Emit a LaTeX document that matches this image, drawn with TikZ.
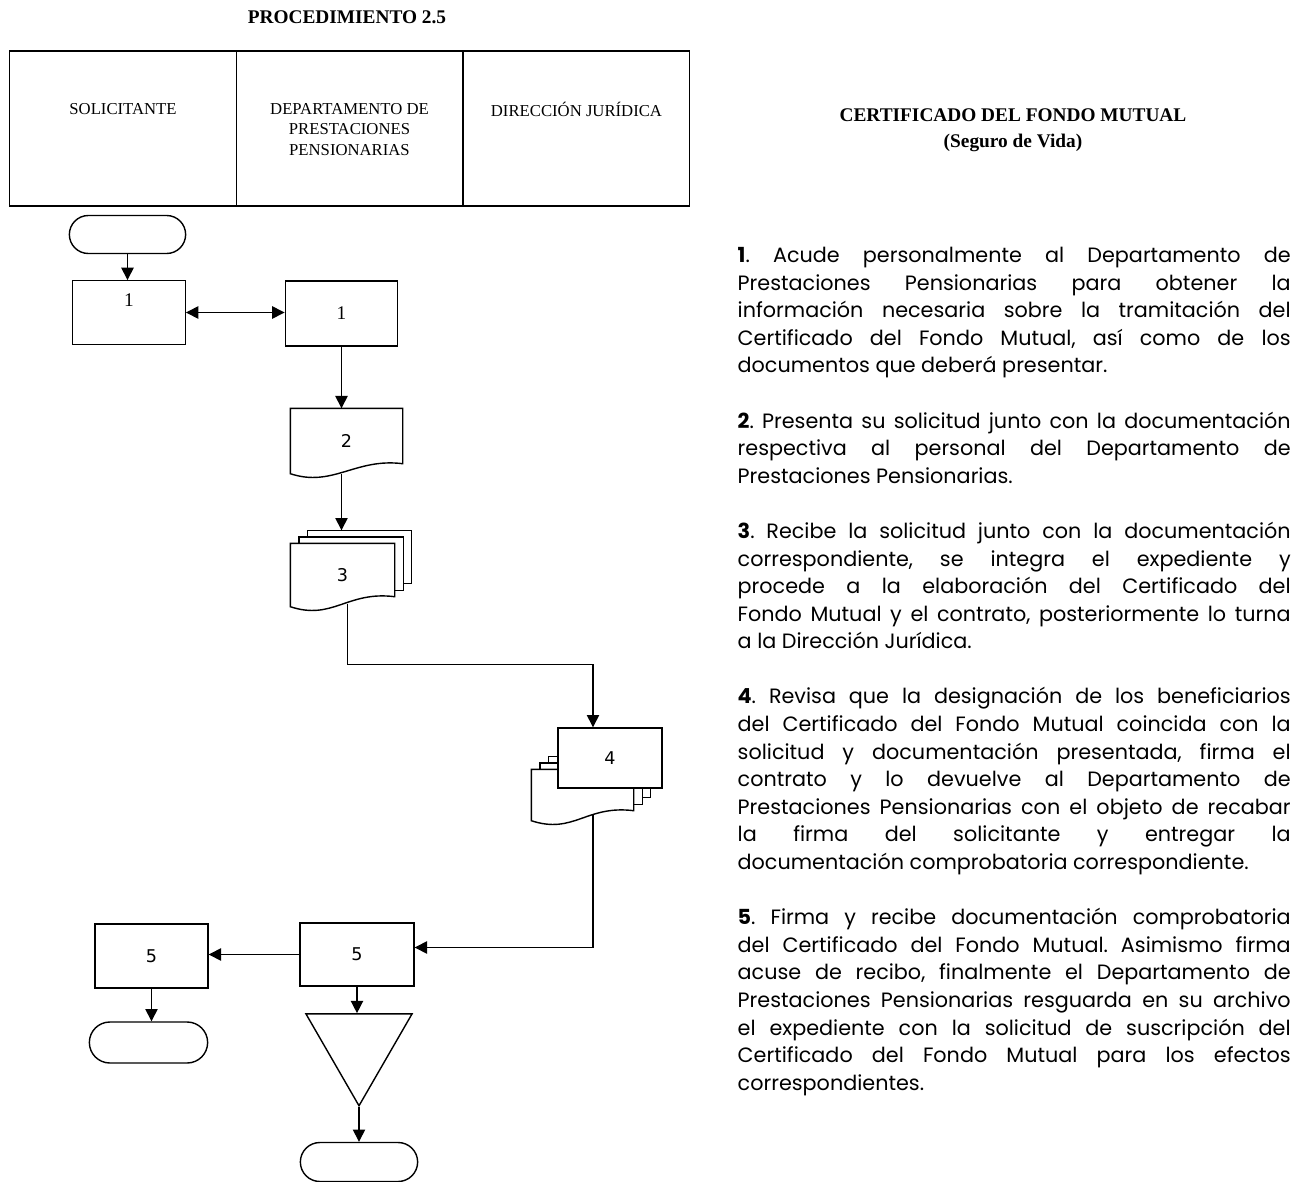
\documentclass[tikz,border=0pt]{standalone}
\usepackage{fontspec}
\setmainfont{Liberation Serif}
\newfontfamily\descfont[WordSpace={1,1,2}]{Poppins}
\newfontfamily\numfont{DejaVu Sans}
\usepackage{tikz}
\usetikzlibrary{arrows.meta,calc,positioning,shapes.geometric,shapes.misc}
\setlength{\parindent}{0pt}
\frenchspacing
\hyphenpenalty=10000
\exhyphenpenalty=10000
\tolerance=10000
\tikzset{%
	lane/.style     = {draw, rectangle, minimum width=4.53cm, minimum height=3.1cm},
	lanetext/.style = {align=center, inner sep=0pt, font=\fontsize{9.5}{11.9}\selectfont},
	startstop/.style= {draw, rounded rectangle, minimum width=2.56cm, minimum height=0.76cm},
	process/.style  = {draw, rectangle, minimum width=2.25cm, minimum height=1.27cm, font=\numfont\fontsize{10}{12}\selectfont},
	doc/.style      = {minimum width=2.2cm, minimum height=1.26cm, font=\numfont\fontsize{10}{12}\selectfont,
		append after command={\pgfextra{\let\docnode\tikzlastnode
			\draw ([yshift=0.2cm]\docnode.south east) .. controls +(-0.95,0.12) and +(0.85,-0.28) .. (\docnode.south west)
				-- (\docnode.north west) -- (\docnode.north east) -- cycle;}}},
	multidoc/.style = {doc,
		append after command={\pgfextra{\let\docnode\tikzlastnode
			\draw ([xshift=0.17cm]\docnode.north west) -- ++(0,0.13) -| ([shift={(0.17,0.33)}]\docnode.south east) -- ++(-0.17,0);
			\draw ([shift={(0.34,0.13)}]\docnode.north west) -- ++(0,0.13) -| ([shift={(0.34,0.46)}]\docnode.south east) -- ++(-0.17,0);}}},
	archive/.style  = {draw, regular polygon, regular polygon sides=3, shape border rotate=180, minimum size=2.45cm, inner sep=0pt},
	arrow/.style    = {->},
}

\begin{document}
\begin{tikzpicture}[line width=0.8pt, >={Triangle[length=7pt,width=7pt]}]
	\useasboundingbox (0,0) rectangle (26.14,-23.64);
	% header
	\node[font=\bfseries\fontsize{11}{13}\selectfont] (title) at (6.94,-0.34) {PROCEDIMIENTO 2.5};
	\node[lane] (lane1) at (2.46,-2.57) {};
	\node[lane] (lane2) at (6.99,-2.57) {};
	\node[lane] (lane3) at (11.53,-2.57) {};
	\node[lanetext,below=1.04cm of lane1.north] (sol) {SOLICITANTE};
	\node[lanetext,below=1.04cm of lane2.north] (dep) {DEPARTAMENTO DE\\PRESTACIONES\\PENSIONARIAS};
	\node[lanetext,below=1.02cm of lane3.north] (dir) {DIRECCIÓN JURÍDICA};
	% flow
	\node[startstop] (start) at (2.55,-4.69) {};
	\node[process,font=\rmfamily\fontsize{11}{13}\selectfont,text depth=0.5cm] (a1) at (2.58,-6.25) {1};
	\node[process,font=\rmfamily\fontsize{11}{13}\selectfont,minimum height=1.3cm] (b1) at (6.83,-6.27) {1};
	\node[doc,minimum width=2.22cm,minimum height=1.28cm] (doc2) at (6.93,-8.82) {2};
	\node[multidoc,minimum width=2.06cm,minimum height=1.24cm] (doc3) at (6.85,-11.5) {3};
	\node[multidoc,minimum width=2.02cm,minimum height=1cm] (doc4) at (11.65,-15.9) {};
	\node[process,fill=white,minimum width=2.08cm,minimum height=1.2cm] (box4) at (12.2,-15.16) {4};
	\node[process,minimum height=1.26cm,minimum width=2.28cm] (box5b) at (7.14,-19.09) {5};
	\node[process,minimum width=2.26cm,minimum height=1.28cm] (box5a) at (3.03,-19.12) {5};
	\node[startstop,minimum width=2.6cm,minimum height=0.82cm] (endA) at (2.97,-20.85) {};
	\node[archive] (tri) at (7.18,-20.89) {};
	\node[startstop,minimum width=2.58cm,minimum height=0.78cm] (endB) at (7.18,-23.24) {};
	\draw[arrow] (start.south) -- (start.south |- a1.north);
	\draw[arrow,<->] (a1.east) -- (a1.east -| b1.west);
	\draw[arrow] (b1.south) -- (b1.south |- doc2.north);
	\draw[arrow] (b1.south |- doc2.south) -- ([yshift=0.26cm]b1.south |- doc3.north);
	\draw[arrow] ([shift={(0.1,0.06)}]doc3.south) -- ++(0,-1.22) -| ([xshift=-0.34cm]box4.north);
	\draw[arrow] ([shift={(0.21,0.12)}]doc4.south) |- ([yshift=0.14cm]box5b.east);
	\draw[arrow] (box5b.west) -- (box5b.west -| box5a.east);
	\draw[arrow] (box5a.south) -- (box5a.south |- endA.north);
	\draw[arrow] (box5b.south) -- (box5b.south |- tri.north);
	\draw[arrow] (tri.south) -- (endB.north);
	% description
	\node[font=\bfseries\fontsize{11}{14.7}\selectfont,align=center] (head) at (20.26,-2.6) {CERTIFICADO DEL FONDO MUTUAL\\(Seguro de Vida)};
	\node[anchor=north west,text width=11.06cm,align=justify,inner sep=0pt,font=\descfont\fontsize{11.8}{15.7}\selectfont] (desc) at (14.74,-4.93) {%
		\textbf{1}. Acude personalmente al Departamento de\linebreak Prestaciones Pensionarias para obtener la\linebreak información necesaria sobre la tramitación del\linebreak Certificado del Fondo Mutual, así como de los\linebreak documentos que deberá presentar.\par\vspace{\baselineskip}
		\textbf{2}. Presenta su solicitud junto con la documentación\linebreak respectiva al personal del Departamento de\linebreak Prestaciones Pensionarias.\par\vspace{\baselineskip}
		\textbf{3}. Recibe la solicitud junto con la documentación\linebreak correspondiente, se integra el expediente y\linebreak procede a la elaboración del Certificado del\linebreak Fondo Mutual y el contrato, posteriormente lo turna\linebreak a la Dirección Jurídica.\par\vspace{\baselineskip}
		\textbf{4}. Revisa que la designación de los beneficiarios\linebreak del Certificado del Fondo Mutual coincida con la\linebreak solicitud y documentación presentada, firma el\linebreak contrato y lo devuelve al Departamento de\linebreak Prestaciones Pensionarias con el objeto de recabar\linebreak la firma del solicitante y entregar la\linebreak documentación comprobatoria correspondiente.\par\vspace{\baselineskip}
		\textbf{5}. Firma y recibe documentación comprobatoria\linebreak del Certificado del Fondo Mutual. Asimismo firma\linebreak acuse de recibo, finalmente el Departamento de\linebreak Prestaciones Pensionarias resguarda en su archivo\linebreak el expediente con la solicitud de suscripción del\linebreak Certificado del Fondo Mutual para los efectos\linebreak correspondientes.};
\end{tikzpicture}
\end{document}
